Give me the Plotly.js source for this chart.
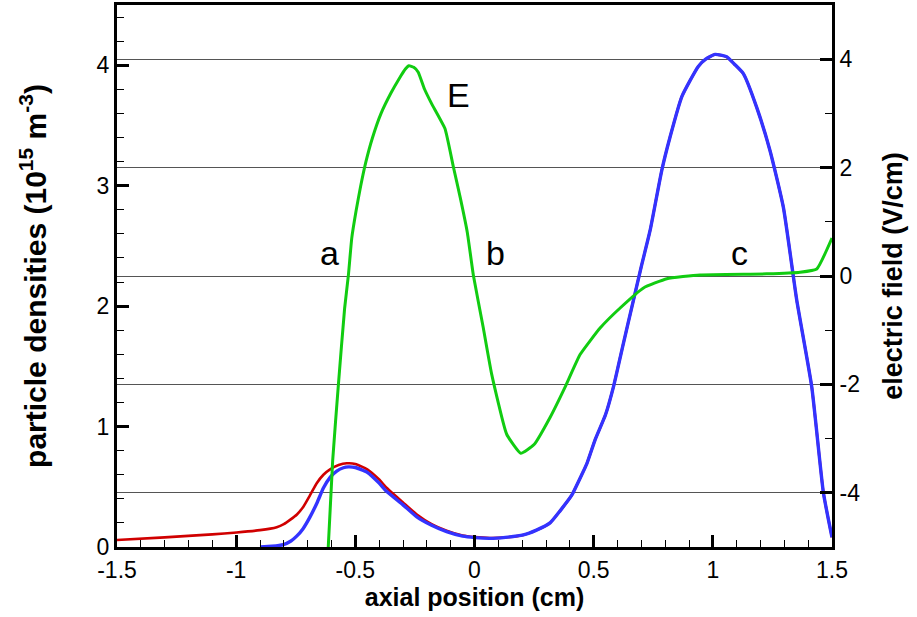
<!DOCTYPE html>
<html>
<head>
<meta charset="utf-8">
<script src="https://cdn.plot.ly/plotly-3.0.1.min.js"></script>
<style>html,body{margin:0;padding:0;background:#fff;}#chart{width:917px;height:617px;}</style>
</head>
<body>
<div id="chart"></div>
<script>
// Blue density (left axis, 1e15 m^-3)
const blueX = [-0.90,-0.85,-0.802,-0.77,-0.746,-0.72,-0.69,-0.66,-0.634,-0.605,-0.578,-0.55,-0.529,-0.50,-0.45,-0.40,-0.368,-0.30,-0.242,-0.18,-0.117,-0.05,0.002,0.065,0.13,0.205,0.26,0.317,0.359,0.408,0.45,0.471,0.506,0.55,0.583,0.62,0.667,0.70,0.737,0.786,0.82,0.87,0.939,0.97,1.009,1.058,1.09,1.128,1.184,1.24,1.296,1.352,1.415,1.464,1.5];
const blueY = [0,0.006,0.02,0.05,0.09,0.15,0.25,0.37,0.49,0.58,0.63,0.658,0.665,0.66,0.62,0.53,0.46,0.35,0.25,0.18,0.127,0.09,0.078,0.072,0.08,0.10,0.14,0.20,0.30,0.43,0.60,0.69,0.89,1.1,1.33,1.65,2.05,2.33,2.63,3.13,3.40,3.74,3.99,4.05,4.09,4.07,4.01,3.93,3.65,3.29,2.82,2.05,1.33,0.45,0.08];
// Red density (left axis)
const redX = [-1.5,-1.3,-1.1,-0.998,-0.9,-0.83,-0.80,-0.774,-0.745,-0.718,-0.69,-0.662,-0.634,-0.606,-0.57,-0.536,-0.50,-0.45,-0.40,-0.368,-0.30,-0.242,-0.18,-0.117,-0.05,0.002,0.065,0.13,0.205,0.26,0.317,0.359,0.408,0.45,0.471,0.506,0.55,0.583,0.62,0.667,0.70,0.737,0.786,0.82,0.87,0.939,0.97,1.009,1.058,1.09,1.128,1.184,1.24,1.296,1.352,1.415,1.464,1.5];
const redY = [0.058,0.08,0.105,0.12,0.14,0.165,0.19,0.225,0.27,0.335,0.43,0.53,0.60,0.645,0.68,0.695,0.69,0.645,0.56,0.49,0.37,0.27,0.19,0.135,0.095,0.082,0.075,0.08,0.10,0.14,0.20,0.30,0.43,0.60,0.69,0.89,1.1,1.33,1.65,2.05,2.33,2.63,3.13,3.40,3.74,3.99,4.05,4.09,4.07,4.01,3.93,3.65,3.29,2.82,2.05,1.33,0.45,0.08];
// Electric field (right axis, V/cm)
const eX = [-0.616,-0.595,-0.571,-0.545,-0.529,-0.515,-0.497,-0.478,-0.456,-0.428,-0.392,-0.35,-0.315,-0.29,-0.275,-0.255,-0.236,-0.21,-0.18,-0.124,-0.089,-0.06,-0.03,-0.005,0.037,0.072,0.135,0.194,0.25,0.317,0.38,0.443,0.527,0.611,0.709,0.807,0.946,1.226,1.366,1.436,1.5];
const eY = [-5.2,-3.4,-2.0,-0.6,0.02,0.70,1.20,1.65,2.10,2.55,3.0,3.38,3.65,3.82,3.88,3.85,3.76,3.45,3.18,2.72,2.02,1.45,0.80,0.02,-0.96,-1.81,-2.92,-3.27,-3.11,-2.61,-2.05,-1.45,-0.96,-0.59,-0.22,-0.05,0.02,0.04,0.07,0.13,0.70];
// Axis ticks
const xTicks = [-1.5,-1,-0.5,0,0.5,1,1.5];
const xTickText = ['-1.5','-1','-0.5','0','0.5','1','1.5'];
const yTicks = [0,1,2,3,4];
const yTickText = ['0','1','2','3','4'];
const y2Ticks = [-4,-2,0,2,4];
const y2TickText = ['-4','-2','0','2','4'];
// Curve labels
const labelText = ['E','a','b','c'];
const labelX = [-0.069,-0.61,0.086,1.11];
const labelY = [3.75,2.44,2.44,2.44];

const FONT = '"Liberation Sans", Arial, sans-serif';

const traces = [
  {x: redX, y: redY, type: 'scatter', mode: 'lines', line: {color: '#d00000', width: 2.6, shape: 'spline', smoothing: 0.5}, yaxis: 'y', hoverinfo: 'skip'},
  {x: blueX, y: blueY, type: 'scatter', mode: 'lines', line: {color: '#3333ff', width: 3.4, shape: 'spline', smoothing: 0.5}, yaxis: 'y', hoverinfo: 'skip'},
  {x: eX, y: eY, type: 'scatter', mode: 'lines', line: {color: '#11cc11', width: 3, shape: 'spline', smoothing: 0.4}, yaxis: 'y2', hoverinfo: 'skip'}
];

const layout = {
  width: 917, height: 617,
  margin: {l: 117, r: 85, t: 5, b: 70},
  paper_bgcolor: '#fff', plot_bgcolor: '#fff',
  showlegend: false,
  font: {family: FONT, size: 22, color: '#000'},
  xaxis: {
    range: [-1.5, 1.5], tickvals: xTicks, ticktext: xTickText,
    ticks: 'inside', ticklen: 12, tickwidth: 3, tickcolor: '#000',
    minor: {ticks: 'inside', dtick: 0.1, ticklen: 7, tickwidth: 1, tickcolor: '#000', showgrid: false},
    showline: true, linewidth: 3, linecolor: '#000', mirror: true,
    showgrid: false, zeroline: false,
    tickfont: {family: FONT, size: 23},
    title: {text: 'axial position (cm)', font: {family: FONT, size: 25, weight: 'bold'}, standoff: 4}
  },
  yaxis: {
    range: [0, 4.5], tickvals: yTicks, ticktext: yTickText,
    ticks: 'inside', ticklen: 12, tickwidth: 3, tickcolor: '#000',
    minor: {ticks: 'inside', dtick: 0.2, ticklen: 7, tickwidth: 1, tickcolor: '#000', showgrid: false},
    showline: true, linewidth: 3, linecolor: '#000',
    showgrid: false, zeroline: false,
    tickfont: {family: FONT, size: 23},
    title: {text: 'particle densities (10<sup>15</sup> m<sup>-3</sup>)', font: {family: FONT, size: 30, weight: 'bold'}, standoff: 42}
  },
  yaxis2: {
    overlaying: 'y', side: 'right',
    range: [-5, 5], tickvals: y2Ticks, ticktext: y2TickText,
    ticks: 'inside', ticklen: 12, tickwidth: 3, tickcolor: '#000',
    minor: {ticks: 'inside', dtick: 1, ticklen: 7, tickwidth: 1, tickcolor: '#000', showgrid: false},
    showline: true, linewidth: 3, linecolor: '#000',
    showgrid: true, gridcolor: '#555', gridwidth: 1, zeroline: false,
    tickfont: {family: FONT, size: 23},
    title: {text: 'electric field (V/cm)', font: {family: FONT, size: 27, weight: 'bold'}, standoff: 24}
  },
  annotations: labelText.map((t, i) => ({
    text: t, x: labelX[i], y: labelY[i], xref: 'x', yref: 'y',
    showarrow: false, font: {family: FONT, size: 34, color: '#000'}
  }))
};

Plotly.newPlot('chart', traces, layout, {displayModeBar: false, staticPlot: true});
</script>
</body>
</html>
